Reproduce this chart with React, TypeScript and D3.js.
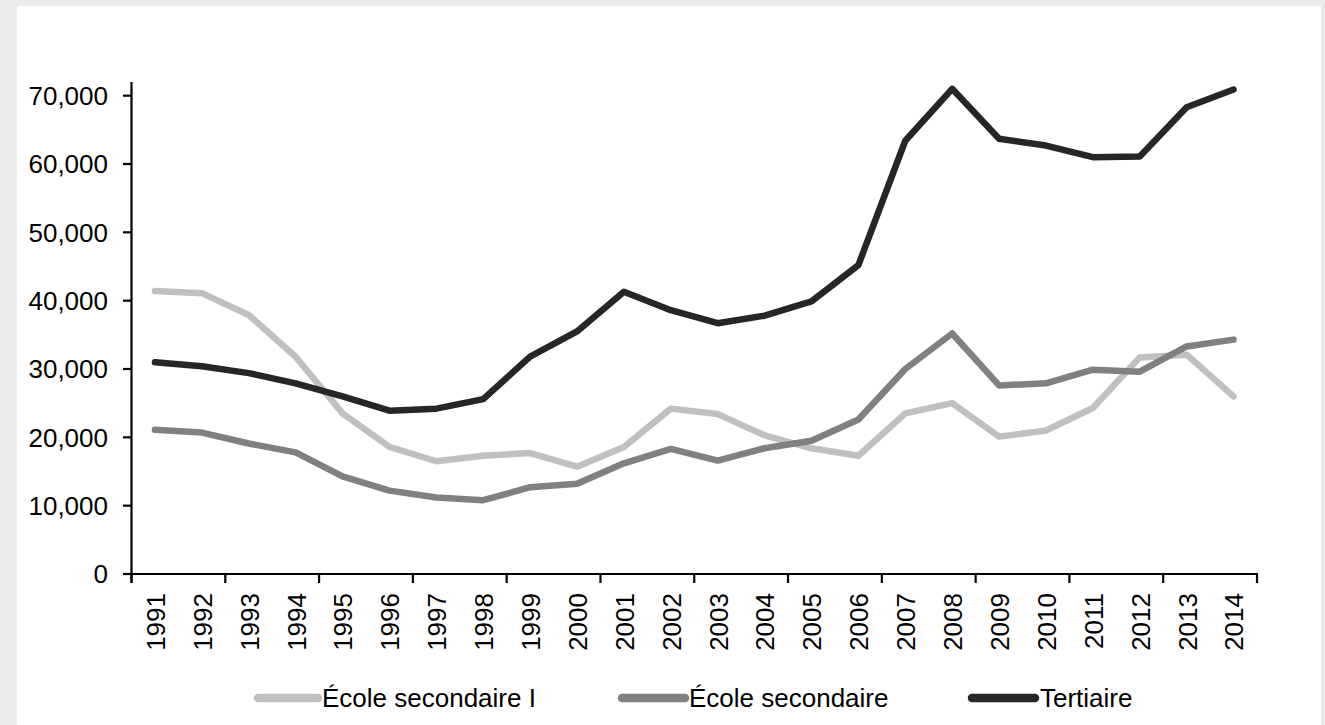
import React from "react";
import * as d3 from "d3";

const years = [
  "1991", "1992", "1993", "1994", "1995", "1996", "1997", "1998", "1999", "2000", "2001", "2002",
  "2003", "2004", "2005", "2006", "2007", "2008", "2009", "2010", "2011", "2012", "2013", "2014",
];

const ecoleSecondaireI = [
  41400, 41100, 37900, 31800, 23500, 18600, 16500, 17300, 17700, 15700, 18600, 24200,
  23400, 20300, 18400, 17300, 23500, 25000, 20100, 21000, 24300, 31700, 32100, 26000,
];

const ecoleSecondaire = [
  21100, 20700, 19100, 17800, 14300, 12200, 11200, 10800, 12700, 13200, 16200, 18300,
  16600, 18400, 19500, 22600, 30000, 35200, 27600, 27900, 29900, 29600, 33300, 34300,
];

const tertiaire = [
  31000, 30400, 29400, 27900, 26000, 23900, 24200, 25600, 31800, 35500, 41300, 38600,
  36700, 37800, 39900, 45200, 63400, 71000, 63700, 62700, 61000, 61100, 68300, 70900,
];

const yTicks = [0, 10000, 20000, 30000, 40000, 50000, 60000, 70000];

const seriesNames = ["École secondaire I", "École secondaire", "Tertiaire"];
const seriesColors = ["#c0c0c0", "#808080", "#262626"];

const W = 1325;
const H = 725;
const FONT = "'Liberation Sans', Arial, Helvetica, sans-serif";

export default function App() {
  const x = d3.scaleBand<string>().domain(years).range([131.5, 1257]).padding(0);
  const y = d3.scaleLinear().domain([0, 72000]).range([574, 82]);
  const cx = (yr: string) => (x(yr) as number) + x.bandwidth() / 2;

  const series = [ecoleSecondaireI, ecoleSecondaire, tertiaire];
  const line = d3
    .line<number>()
    .x((_, i) => cx(years[i]))
    .y((d) => y(d));

  const fmt = d3.format(",");
  const xTickIdx = d3.range(0, years.length + 1, 2);

  const legendItems = [
    { x1: 258, x2: 318, tx: 322 },
    { x1: 622, x2: 685, tx: 689 },
    { x1: 972, x2: 1035, tx: 1040 },
  ];
  const legendY = 698;

  return (
    <svg
      width={W}
      height={H}
      style={{ position: "absolute", left: 0, top: 0, display: "block" }}
      fontFamily={FONT}
    >
      <rect x={0} y={0} width={W} height={H} fill="#ebebeb" />
      <rect x={17} y={6} width={1304} height={H - 6} fill="#ffffff" />

      {/* series */}
      {series.map((s, k) => (
        <path
          key={k}
          d={line(s) || ""}
          fill="none"
          stroke={seriesColors[k]}
          strokeWidth={6.5}
          strokeLinejoin="round"
          strokeLinecap="round"
        />
      ))}

      {/* y axis */}
      <line x1={131.5} x2={131.5} y1={y(72000)} y2={583} stroke="#000" strokeWidth={2.2} />
      {yTicks.map((t) => (
        <g key={t}>
          <line x1={123} x2={131.5} y1={y(t)} y2={y(t)} stroke="#000" strokeWidth={2.2} />
          <text
            x={108}
            y={y(t)}
            dy="0.36em"
            textAnchor="end"
            fontSize={26}
            fill="#000"
          >
            {fmt(t)}
          </text>
        </g>
      ))}

      {/* x axis */}
      <line x1={130.4} x2={1258} y1={574} y2={574} stroke="#000" strokeWidth={2.2} />
      {xTickIdx.map((i) => {
        const xp = 131.5 + i * x.bandwidth();
        return <line key={i} x1={xp} x2={xp} y1={574} y2={583} stroke="#000" strokeWidth={2.2} />;
      })}
      {years.map((yr) => (
        <text
          key={yr}
          transform={`translate(${cx(yr) + 0.5},593) rotate(-90)`}
          dy="0.36em"
          textAnchor="end"
          fontSize={26}
          fill="#000"
        >
          {yr}
        </text>
      ))}

      {/* legend */}
      {legendItems.map((it, k) => (
        <g key={k}>
          <line
            x1={it.x1}
            x2={it.x2}
            y1={legendY}
            y2={legendY}
            stroke={seriesColors[k]}
            strokeWidth={8.5}
            strokeLinecap="round"
          />
          <text x={it.tx} y={legendY} dy="0.36em" fontSize={26} fill="#000">
            {seriesNames[k]}
          </text>
        </g>
      ))}
    </svg>
  );
}
